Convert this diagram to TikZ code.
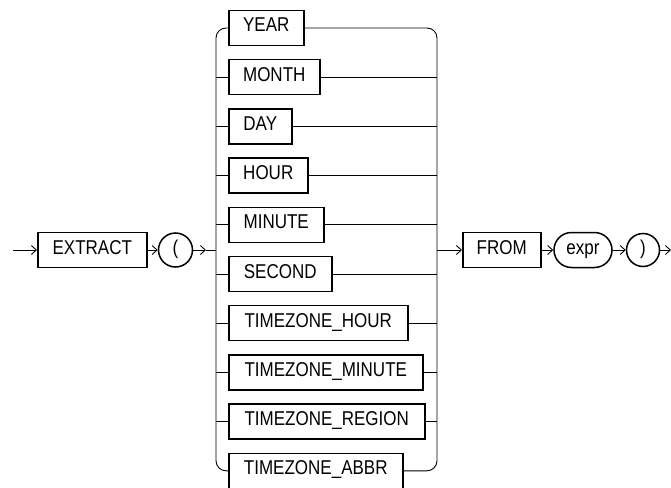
\documentclass[tikz,border=0pt]{standalone}
\usepackage{fontspec}
\setmainfont{Liberation Sans}[FakeStretch=0.85]
\usetikzlibrary{arrows.meta,shapes.misc}
\begin{document}
\begin{tikzpicture}[x=1pt,y=-1pt,
  every node/.style={font=\fontsize{20}{22}\selectfont, inner sep=0pt, text height=13pt, text depth=5pt},
  kw/.style={draw, line width=1.5pt, minimum height=35pt, anchor=west},
  term/.style={draw, line width=1.5pt, minimum height=35pt, rounded rectangle},
  circ/.style={draw, line width=1.5pt, circle, minimum size=34pt},
  conn/.style={line width=0.9pt},
  arr/.style={conn, -{Straight Barb[length=5pt,width=9pt]}}]
\useasboundingbox (0,0) rectangle (671,487);
% main line
\coordinate (start) at (13,250);
\node[kw, minimum width=109pt] (extract) at (37,250) {EXTRACT};
\node[circ] (lp) at (175.5,250) {(};
\coordinate (a1) at (206,250);
\coordinate (jl) at (216,250);
\coordinate (jr) at (437,250);
\node[kw, minimum width=78pt] (from) at (462,250) {FROM};
\node[term, minimum width=58pt] (expr) at (583,250) {expr};
\node[circ, minimum size=33pt] (rp) at (643,250) {)};
\coordinate (end) at (671,250);
% choices
\node[kw, minimum width=75pt]  (year)  at (228,28)    {YEAR};
\node[kw, minimum width=91pt]  (month) at (228,77.2)  {MONTH};
\node[kw, minimum width=63pt]  (day)   at (228,126.4) {DAY};
\node[kw, minimum width=79pt]  (hour)  at (228,175.6) {HOUR};
\node[kw, minimum width=95pt]  (minute) at (228,224.8) {MINUTE};
\node[kw, minimum width=103pt] (second) at (228,274)  {SECOND};
\node[kw, minimum width=179pt] (tzh)   at (228,323.2) {TIMEZONE\_HOUR};
\node[kw, minimum width=194pt] (tzm)   at (228,372.4) {TIMEZONE\_MINUTE};
\node[kw, minimum width=196pt] (tzr)   at (228,421.6) {TIMEZONE\_REGION};
\node[kw, minimum width=174pt] (tza)   at (228,470.8) {TIMEZONE\_ABBR};
% connectors
\draw[arr] (start) -- (extract.west);
\draw[arr] (extract.east) -- (lp.west);
\draw[arr] (lp.east) -- (a1);
\draw[conn] (a1) -- (jl);
\draw[conn, rounded corners=10pt] (year.west) -| (jl) |- (tza.west);
\draw[conn, rounded corners=10pt] (year.east) -| (jr) |- (tza.east);
\foreach \n in {month,day,hour,minute,second,tzh,tzm,tzr}{
  \draw[conn] (\n.west -| jl) -- (\n.west);
  \draw[conn] (\n.east) -- (\n.east -| jr);
}
\draw[arr] (jr) -- (from.west);
\draw[arr] (from.east) -- (expr.west);
\draw[arr] (expr.east) -- (rp.west);
\draw[arr] (rp.east) -- (end);
\end{tikzpicture}
\end{document}
